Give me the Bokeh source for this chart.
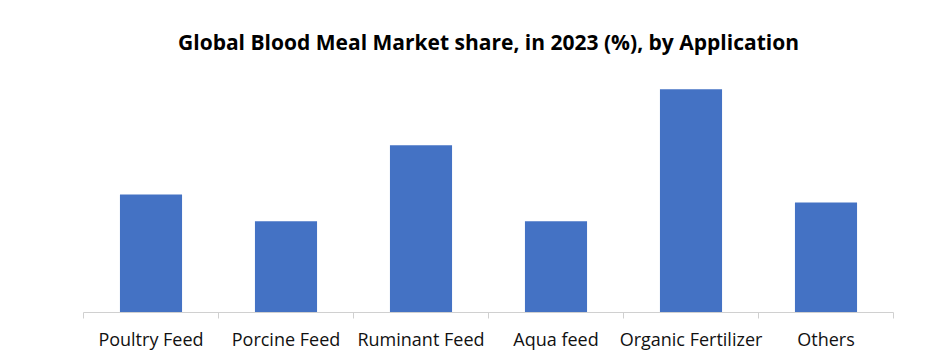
from bokeh.plotting import figure
from bokeh.models import Range1d, FixedTicker, ColumnDataSource
from bokeh.embed import file_html
from bokeh.resources import INLINE

title_text = "Global Blood Meal Market share, in 2023 (%), by Application"
categories = ["Poultry Feed", "Porcine Feed", "Ruminant Feed", "Aqua feed", "Organic Fertilizer", "Others"]
shares = [14.75, 11.4, 20.9, 11.4, 27.9, 13.75]

positions = [i + 0.5 for i in range(len(categories))]
boundaries = list(range(len(categories) + 1))

src = ColumnDataSource(dict(x=positions, top=shares, cat=categories))

p = figure(width=925, height=355, output_backend="svg", toolbar_location=None,
           x_range=Range1d(0, len(categories)), y_range=Range1d(0, 30),
           y_axis_location=None, min_border_left=83, min_border_right=32,
           min_border_top=72, min_border_bottom=43, title=title_text)
p.outline_line_color = None
p.grid.visible = False

p.vbar(x="x", top="top", width=0.46, bottom=0, source=src, color="#4472C4", line_color=None)

p.title.align = "center"
p.title.vertical_align = "top"
p.title.text_font = "Open Sans"
p.title.text_font_size = "21px"
p.title.text_font_style = "bold"
p.title.text_color = "#000000"
p.title.standoff = 29

ax = p.xaxis[0]
ax.ticker = FixedTicker(ticks=positions, minor_ticks=boundaries)
ax.major_label_overrides = {pos: c for pos, c in zip(positions, categories)}
ax.major_tick_line_color = None
ax.major_tick_out = 0
ax.major_tick_in = 0
ax.minor_tick_out = 6
ax.minor_tick_in = 0
ax.minor_tick_line_color = "#d0d0d0"
ax.axis_line_color = "#d0d0d0"
ax.major_label_text_font = "Open Sans"
ax.major_label_text_font_size = "18px"
ax.major_label_text_color = "#111111"
ax.major_label_standoff = 8

open("out.html", "w").write(file_html(p, INLINE))
